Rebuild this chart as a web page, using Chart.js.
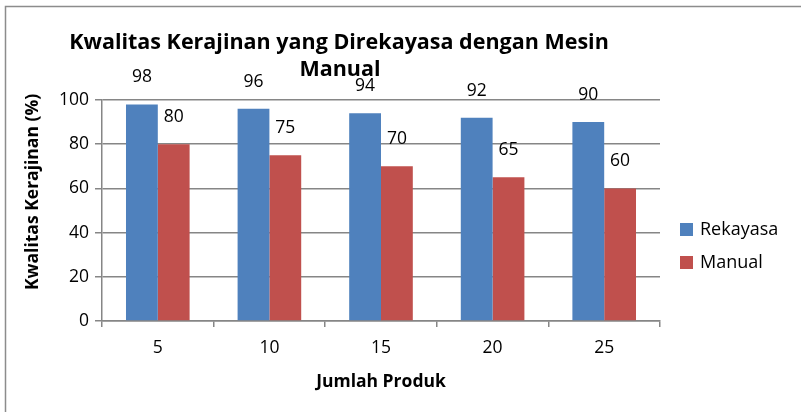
<!DOCTYPE html>
<html>
<head>
<meta charset="utf-8">
<script src="https://cdn.jsdelivr.net/npm/chart.js@4.4.1/dist/chart.umd.min.js"></script>
<style>
  html, body { margin: 0; padding: 0; background: #fff; }
  #wrap { width: 801px; height: 412px; position: relative; }
</style>
</head>
<body>
<div id="wrap"><canvas id="myChart" width="801" height="412"></canvas></div>
<script>
const produk = ['5', '10', '15', '20', '25'];
const rekayasa = [98, 96, 94, 92, 90];
const manual = [80, 75, 70, 65, 60];
const yTicks = [0, 20, 40, 60, 80, 100];

const titleLines = ['Kwalitas Kerajinan yang Direkayasa dengan Mesin', 'Manual'];
const xTitle = 'Jumlah Produk';
const yTitle = 'Kwalitas Kerajinan (%)';
const fontFam = '"Open Sans", "Liberation Sans", sans-serif';
const gridColor = '#868686';

// frame, titles, legend and value labels
const decorPlugin = {
  id: 'decor',
  beforeDraw(chart) {
    const ctx = chart.ctx;
    ctx.save();
    ctx.strokeStyle = '#8c8c8c';
    ctx.lineWidth = 1.5;
    ctx.strokeRect(5.5, 6.5, 900, 500);
    ctx.restore();
  },
  afterDraw(chart) {
    const ctx = chart.ctx;
    ctx.save();
    ctx.fillStyle = '#000';
    ctx.textAlign = 'center';
    ctx.textBaseline = 'middle';
    ctx.font = 'bold 21.5px ' + fontFam;
    ctx.fillText(titleLines[0], 339, 43);
    ctx.fillText(titleLines[1], 340, 70);

    // axis titles
    ctx.font = 'bold 17.5px ' + fontFam;
    ctx.fillText(xTitle, 381, 382);
    ctx.save();
    ctx.translate(33, 192);
    ctx.rotate(-Math.PI / 2);
    ctx.fillText(yTitle, 0, 0);
    ctx.restore();

    // value labels above bars
    ctx.font = '17.5px ' + fontFam;
    chart.data.datasets.forEach((ds, i) => {
      chart.getDatasetMeta(i).data.forEach((bar, j) => {
        ctx.fillText(ds.data[j], bar.x, bar.y - 27);
      });
    });

    // legend
    chart.data.datasets.forEach((ds, i) => {
      const y = 229 + i * 33;
      ctx.fillStyle = ds.backgroundColor;
      ctx.fillRect(680, y - 6, 13, 13);
      ctx.fillStyle = '#000';
      ctx.textAlign = 'left';
      ctx.font = '18px ' + fontFam;
      ctx.fillText(ds.label, 700, y + 1);
    });
    ctx.restore();
  }
};

const ctx = document.getElementById('myChart');
new Chart(ctx, {
  type: 'bar',
  data: {
    labels: produk,
    datasets: [
      { label: 'Rekayasa', data: rekayasa, backgroundColor: '#4F81BD' },
      { label: 'Manual', data: manual, backgroundColor: '#C0504D' },
    ],
  },
  options: {
    responsive: false,
    animation: false,
    events: [],
    layout: { padding: { left: 5, right: 141, top: 100, bottom: 0 } },
    plugins: { legend: { display: false }, title: { display: false }, tooltip: { enabled: false } },
    datasets: { bar: { categoryPercentage: 0.57, barPercentage: 1 } },
    scales: {
      x: {
        afterFit: (s) => { s.height = 91; },
        grid: { offset: true, drawOnChartArea: false, color: gridColor, tickLength: 6, lineWidth: 1.5 },
        border: { color: gridColor, width: 1.5 },
        ticks: { color: '#000', font: { family: fontFam, size: 17.5 }, padding: 11 },
      },
      y: {
        min: 0,
        max: 100,
        afterFit: (s) => { s.width = 97; },
        afterBuildTicks: (s) => { s.ticks = yTicks.map((v) => ({ value: v })); },
        grid: { color: gridColor, tickLength: 7, lineWidth: 1.5 },
        border: { color: gridColor, width: 1.5 },
        ticks: { color: '#000', font: { family: fontFam, size: 17.5 }, padding: 6 },
      },
    },
  },
  plugins: [decorPlugin],
});
</script>
</body>
</html>
